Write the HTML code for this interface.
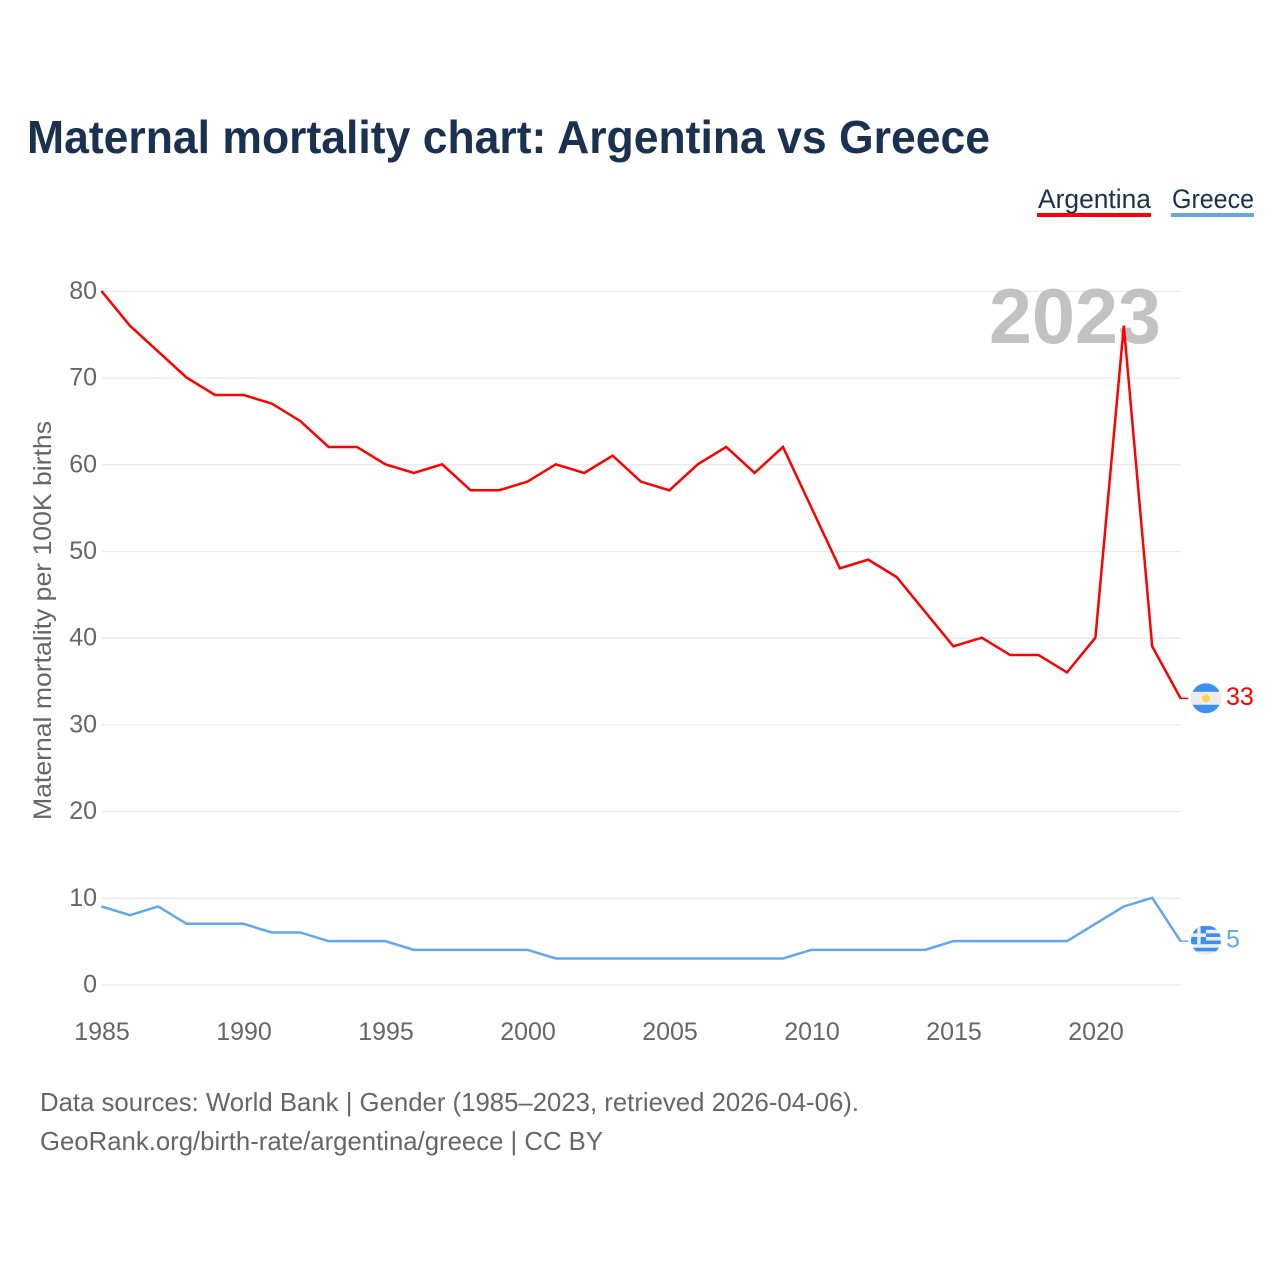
<!DOCTYPE html>
<html lang="en">
<head>
<meta charset="utf-8">
<title>Maternal mortality chart: Argentina vs Greece</title>
<style>
html,body{margin:0;padding:0;background:#fff;width:1280px;height:1280px;overflow:hidden}
svg{display:block}
text{font-family:"Liberation Sans",sans-serif}
</style>
</head>
<body>
<svg id="chart" xmlns="http://www.w3.org/2000/svg" width="1280" height="1280" viewBox="0 0 1280 1280">
  <rect width="1280" height="1280" fill="#ffffff"/>
  <text x="27" y="153" font-size="46" font-weight="700" fill="#1a3150" textLength="963" lengthAdjust="spacingAndGlyphs">Maternal mortality chart: Argentina vs Greece</text>

  <g>
    <text x="1038" y="208" font-size="27" fill="#1a3150" textLength="113" lengthAdjust="spacingAndGlyphs">Argentina</text>
    <rect x="1037" y="213" width="114" height="4" fill="#ff0000"/>
  </g>
  <g>
    <text x="1172" y="208" font-size="27" fill="#1a3150" textLength="82" lengthAdjust="spacingAndGlyphs">Greece</text>
    <rect x="1171" y="213" width="83" height="4" fill="#62a6ee"/>
  </g>

  <g id="grid"></g>
  <text x="989" y="343" font-size="78" font-weight="700" fill="#c2c2c2" textLength="172" lengthAdjust="spacingAndGlyphs">2023</text>
  <g id="yticks"></g>
  <g id="xticks"></g>
  <text transform="translate(51 820) rotate(-90)" font-size="25" fill="#666666" textLength="399" lengthAdjust="spacingAndGlyphs">Maternal mortality per 100K births</text>
  <g id="series" transform="translate(-0.6 -0.5)"></g>

  <defs>
    <clipPath id="flag-clip"><circle cx="0" cy="0" r="15"/></clipPath>
  </defs>
  <g id="flag-argentina">
    <g clip-path="url(#flag-clip)">
      <rect x="-15" y="-15" width="30" height="30" fill="#3b8ff3"/>
      <rect x="-15" y="-6.500" width="30" height="13" fill="#ededed"/>
      <circle cx="0" cy="0" r="4" fill="#ffd54f"/>
    </g>
  </g>
  <g id="flag-greece">
    <g clip-path="url(#flag-clip)">
      <rect x="-15" y="-15" width="30" height="30" fill="#ededed"/>
      <rect x="-15" y="-14" width="30" height="3.600" fill="#3b8ff3"/>
      <rect x="-15" y="-6.800" width="30" height="3.600" fill="#3b8ff3"/>
      <rect x="-15" y="0.400" width="30" height="3.600" fill="#3b8ff3"/>
      <rect x="-15" y="7.600" width="30" height="3.600" fill="#3b8ff3"/>
      <rect x="-15" y="-14" width="15" height="18" fill="#3b8ff3"/>
      <rect x="-15" y="-6.800" width="15" height="3.600" fill="#ededed"/>
      <rect x="-8.800" y="-14" width="3.400" height="18" fill="#ededed"/>
    </g>
  </g>
  <g id="end-labels"></g>

  <text x="40" y="1111" font-size="26" fill="#666666" textLength="819" lengthAdjust="spacingAndGlyphs">Data sources: World Bank | Gender (1985–2023, retrieved 2026-04-06).</text>
  <text x="40" y="1150" font-size="26" fill="#666666" textLength="563" lengthAdjust="spacingAndGlyphs">GeoRank.org/birth-rate/argentina/greece | CC BY</text>
</svg>
<script>
const years = [1985,1986,1987,1988,1989,1990,1991,1992,1993,1994,1995,1996,1997,1998,1999,2000,2001,2002,2003,2004,2005,2006,2007,2008,2009,2010,2011,2012,2013,2014,2015,2016,2017,2018,2019,2020,2021,2022,2023];
const argentinaValues = [80,76,73,70,68,68,67,65,62,62,60,59,60,57,57,58,60,59,61,58,57,60,62,59,62,55,48,49,47,43,39,40,38,38,36,40,76,39,33];
const greeceValues = [9,8,9,7,7,7,6,6,5,5,5,4,4,4,4,4,3,3,3,3,3,3,3,3,3,4,4,4,4,4,5,5,5,5,5,7,9,10,5];
const yTickValues = [0,10,20,30,40,50,60,70,80];
const xTickValues = [1985,1990,1995,2000,2005,2010,2015,2020];

const NS = 'http://www.w3.org/2000/svg';
const xScale = function (year) { return 102 + (year - 1985) * (1181.2 - 102) / 38; };
const yScale = function (v) { return 985 - v * 8.67; };

function make(tag, parent) {
  const el = document.createElementNS(NS, tag);
  parent.appendChild(el);
  return el;
}

const gridGroup = document.getElementById('grid');
const yTickGroup = document.getElementById('yticks');
yTickValues.forEach(function (v) {
  const line = make('line', gridGroup);
  
  
  line.setAttribute('x1', 102);
  line.setAttribute('x2', 1181);
  line.setAttribute('y1', yScale(v));
  line.setAttribute('y2', yScale(v));
  line.setAttribute('stroke', '#e9e9e9');
  line.setAttribute('stroke-width', '1.3');

  const label = make('text', yTickGroup);
  
  
  label.setAttribute('x', 97);
  label.setAttribute('y', yScale(v) + 7.5);
  label.setAttribute('text-anchor', 'end');
  label.setAttribute('font-size', '25');
  label.setAttribute('fill', '#666666');
  label.textContent = v;
});

const xTickGroup = document.getElementById('xticks');
xTickValues.forEach(function (year) {
  const label = make('text', xTickGroup);
  
  
  label.setAttribute('x', xScale(year));
  label.setAttribute('y', 1040);
  label.setAttribute('text-anchor', 'middle');
  label.setAttribute('font-size', '25');
  label.setAttribute('fill', '#666666');
  label.textContent = year;
});

function pointsFor(values) {
  return values.map(function (v, i) {
    return xScale(years[i]).toFixed(2) + ',' + yScale(v).toFixed(2);
  }).join(' ');
}

const seriesGroup = document.getElementById('series');
const labelGroup = document.getElementById('end-labels');

const argentinaLine = make('polyline', seriesGroup);


argentinaLine.setAttribute('points', pointsFor(argentinaValues));
argentinaLine.setAttribute('fill', 'none');
argentinaLine.setAttribute('stroke', '#ff0000');
argentinaLine.setAttribute('stroke-width', '2.5');

const greeceLine = make('polyline', seriesGroup);


greeceLine.setAttribute('points', pointsFor(greeceValues));
greeceLine.setAttribute('fill', 'none');
greeceLine.setAttribute('stroke', '#62a6ee');
greeceLine.setAttribute('stroke-width', '2.5');

const lastIndex = years.length - 1;
const argentinaEnd = yScale(argentinaValues[lastIndex]);
const greeceEnd = yScale(greeceValues[lastIndex]);

const argentinaConnector = make('line', seriesGroup);


argentinaConnector.setAttribute('x1', 1181);
argentinaConnector.setAttribute('x2', 1189);
argentinaConnector.setAttribute('y1', argentinaEnd);
argentinaConnector.setAttribute('y2', argentinaEnd);
argentinaConnector.setAttribute('stroke', '#ff0000');
argentinaConnector.setAttribute('stroke-width', '1.5');

const greeceConnector = make('line', seriesGroup);


greeceConnector.setAttribute('x1', 1181);
greeceConnector.setAttribute('x2', 1189);
greeceConnector.setAttribute('y1', greeceEnd);
greeceConnector.setAttribute('y2', greeceEnd);
greeceConnector.setAttribute('stroke', '#62a6ee');
greeceConnector.setAttribute('stroke-width', '1.5');

document.getElementById('flag-argentina').setAttribute('transform', 'translate(1206 ' + (argentinaEnd - 0.6) + ')');
document.getElementById('flag-greece').setAttribute('transform', 'translate(1206 ' + (greeceEnd - 1.5) + ')');

const argentinaLabel = make('text', labelGroup);


argentinaLabel.setAttribute('x', 1226);
argentinaLabel.setAttribute('y', argentinaEnd + 6);
argentinaLabel.setAttribute('font-size', '25');
argentinaLabel.setAttribute('fill', '#ff0000');
argentinaLabel.textContent = argentinaValues[lastIndex];

const greeceLabel = make('text', labelGroup);


greeceLabel.setAttribute('x', 1226);
greeceLabel.setAttribute('y', greeceEnd + 6);
greeceLabel.setAttribute('font-size', '25');
greeceLabel.setAttribute('fill', '#62a6ee');
greeceLabel.textContent = greeceValues[lastIndex];
</script>
</body>
</html>
